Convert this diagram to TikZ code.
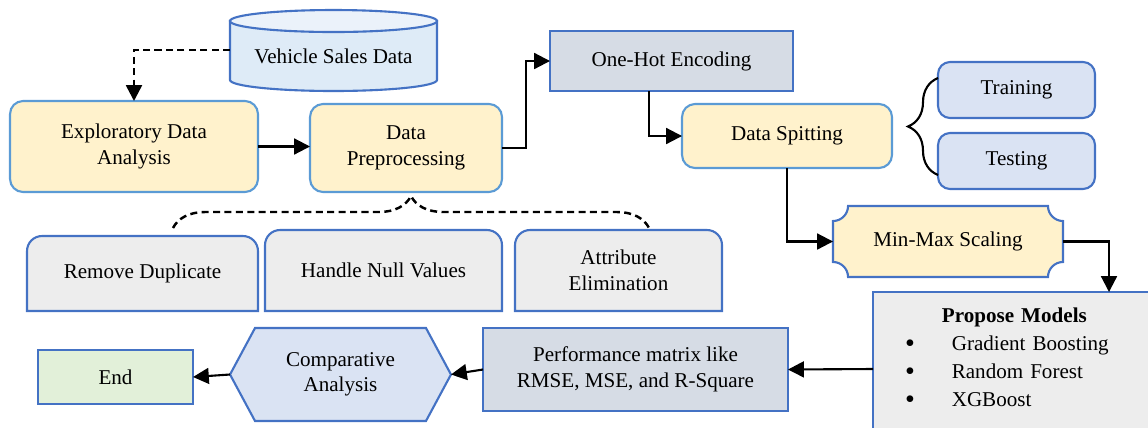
\documentclass[tikz,border=0pt]{standalone}
\usepackage{fontspec}
\setmainfont{Liberation Serif}
\usetikzlibrary{arrows.meta,calc,backgrounds,decorations.pathreplacing}
\definecolor{amarillo}{HTML}{FFF2CC}
\definecolor{celeste}{HTML}{5B9BD5}
\definecolor{azul}{HTML}{4472C4}
\definecolor{cielo}{HTML}{DEEBF7}
\definecolor{cielotapa}{HTML}{EBF2FA}
\definecolor{pizarra}{HTML}{D6DCE5}
\definecolor{lavanda}{HTML}{DAE3F3}
\definecolor{gris}{HTML}{EDEDED}
\definecolor{menta}{HTML}{E2F0D9}
\newcommand{\punto}{\raisebox{-0.8pt}[0pt][0pt]{\fontsize{16}{12}\selectfont\textbullet}}

\tikzset{
  caja/.style={line width=1.2pt, align=center, outer sep=0pt, font=\fontsize{12}{14.5}\selectfont},
  suave/.style={caja, draw=celeste, fill=amarillo, rounded corners=0.26cm},
  plana/.style={caja, draw=azul},
  borde/.style={line width=1.2pt, draw=azul},
  flecha/.style={line width=1.2pt, -{Triangle[length=9pt,width=9pt]}},
  punteada/.style={flecha, line width=1.4pt, dash pattern=on 4pt off 2.5pt},
}

\begin{document}
\begin{tikzpicture}[x=0.02cm,y=-0.02cm]

  \useasboundingbox (0,0) rectangle (1148,427);
  \clip (0,0) rectangle (1148,427);

  % upper row
  \node[caja, minimum width=4.14cm, minimum height=0.96cm] (vsd) at (333.5,56) {Vehicle Sales Data};
  \node[suave, minimum width=4.96cm, minimum height=1.82cm] (eda) at (134,146.5) {Exploratory Data\\Analysis};
  \node[suave, minimum width=3.84cm, minimum height=1.76cm] (dp) at (406,148) {Data\\Preprocessing};
  \node[plana, fill=pizarra, minimum width=4.86cm, minimum height=1.2cm] (ohe) at (671.5,61) {One-Hot Encoding};
  \node[suave, minimum width=4.2cm, minimum height=1.28cm] (ds) at (787,136) {Data Spitting};
  \node[plana, fill=lavanda, rounded corners=0.24cm, minimum width=3.14cm, minimum height=1.12cm] (train) at (1016.5,90) {Training};
  \node[plana, fill=lavanda, rounded corners=0.24cm, minimum width=3.14cm, minimum height=1.12cm] (test) at (1016.5,161) {Testing};

  % middle row
  \node[caja, minimum width=4.62cm, minimum height=1.5cm] (rmdup) at (142.5,273.5) {Remove Duplicate};
  \node[caja, minimum width=4.74cm, minimum height=1.62cm] (hnull) at (383.5,270.5) {Handle Null Values};
  \node[caja, minimum width=4.14cm, minimum height=1.62cm] (attr) at (618.5,270.5) {Attribute\\Elimination};
  \node[caja, minimum width=4.6cm, minimum height=1.42cm] (mms) at (948,241.5) {Min-Max Scaling};

  % lower row
  \node[plana, fill=gris, text width=9.44cm, inner xsep=0pt, minimum height=3.08cm, align=left] (models) at (1109,369)
    {\hspace*{0.64cm}\def\arraystretch{1.1}\begin{tabular}{@{}c@{\hspace{21pt}}l@{}}
      \multicolumn{2}{c}{\hspace{3mm}\textbf{Propose Models}}\\
      \punto & Gradient Boosting\\
      \punto & Random Forest\\
      \punto & XGBoost\\[0.4cm]
    \end{tabular}};
  \node[plana, fill=pizarra, minimum width=6.1cm, minimum height=1.66cm] (perf) at (635.5,369.5) {Performance matrix like\\RMSE, MSE, and R-Square};
  \node[caja, minimum width=4.42cm, minimum height=1.86cm] (comp) at (340.5,374.5) {Comparative\\Analysis};
  \node[plana, fill=menta, minimum width=3.1cm, minimum height=1.08cm] (endn) at (115.5,377) {End};

  \begin{scope}[on background layer]
    \draw[borde, fill=cielo] ([yshift=0.22cm]vsd.north west) -- (vsd.south west)
      arc[start angle=180, end angle=360, x radius=2.07cm, y radius=0.22cm]
      -- ([yshift=0.22cm]vsd.north east) -- cycle;
    \draw[borde, fill=cielotapa] ([yshift=0.22cm]vsd.north) ellipse [x radius=2.07cm, y radius=0.22cm];

    \foreach \n in {rmdup,hnull,attr}
      \draw[borde, fill=gris] (\n.south west) -- ([yshift=-0.3cm]\n.north west)
        arc[start angle=180, end angle=90, radius=0.3cm] -- ([xshift=-0.3cm]\n.north east)
        arc[start angle=90, end angle=0, radius=0.3cm] -- (\n.south east) -- cycle;

    \draw[borde, fill=amarillo] ([xshift=0.3cm]mms.north west) -- ([xshift=-0.3cm]mms.north east)
      arc[start angle=180, end angle=270, radius=0.3cm] -- ([yshift=0.3cm]mms.south east)
      arc[start angle=90, end angle=180, radius=0.3cm] -- ([xshift=0.3cm]mms.south west)
      arc[start angle=0, end angle=90, radius=0.3cm] -- ([yshift=-0.3cm]mms.north west)
      arc[start angle=270, end angle=360, radius=0.3cm] -- cycle;

    \draw[borde, fill=lavanda] (comp.west) -- ([xshift=0.5cm]comp.north west) -- ([xshift=-0.5cm]comp.north east)
      -- (comp.east) -- ([xshift=-0.5cm]comp.south east) -- ([xshift=0.5cm]comp.south west) -- cycle;
  \end{scope}

  % connectors
  \draw[punteada] ([yshift=0.12cm]vsd.west) -| (eda.north);
  \draw[flecha] (eda.east) -- (eda.east -| dp.west);
  \draw[flecha] (dp.east) -- ++(24,0) |- (ohe.west);
  \draw[flecha] ([xshift=-0.45cm]ohe.south) |- (ds.west);
  \draw[flecha] (ds.south) |- (mms.west);
  \draw[flecha] (mms.east) -| (models.north);
  \draw[flecha] (models.west) -- (perf.east);
  \draw[flecha] (perf.west) -- (comp.east);
  \draw[flecha] (comp.west) -- (endn.east);

  % braces
  \coordinate (llaveA) at (938,175);
  \coordinate (llaveB) at (938,78);
  \coordinate (llaveC) at (173,228);
  \coordinate (llaveD) at (649,228);
  \draw[line width=1.2pt, decorate, decoration={brace, amplitude=0.6cm}] (llaveA) -- (llaveB);
  \draw[line width=1.4pt, dash pattern=on 4pt off 2.5pt, decorate, decoration={brace, amplitude=0.64cm}] (llaveC) -- (llaveD);

\end{tikzpicture}
\end{document}
